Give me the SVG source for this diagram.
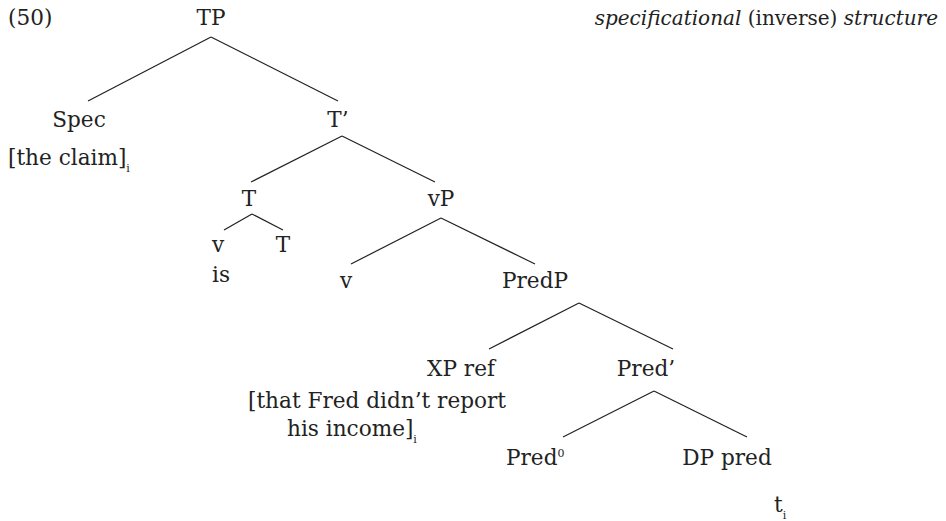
<svg xmlns="http://www.w3.org/2000/svg" width="946" height="521" viewBox="0 0 946 521">
<style>
text{font-family:"DejaVu Serif","Liberation Serif",serif;font-size:21.6px;fill:#222}
.m{text-anchor:middle}
.s{font-size:11px}
.it{font-style:italic}
.h{font-size:20px}
line{stroke:#222;stroke-width:1.2}
</style>
<rect width="946" height="521" fill="#fff"/>
<text x="8" y="25">(50)</text>
<text class="h" x="938" y="25" text-anchor="end"><tspan class="it">specificational</tspan> (inverse) <tspan class="it">structure</tspan></text>
<g id="connectors">
<line x1="211" y1="37" x2="88" y2="101"/>
<line x1="211" y1="37" x2="338" y2="101"/>
<line x1="342" y1="136" x2="251" y2="182"/>
<line x1="342" y1="136" x2="435" y2="182"/>
<line x1="252" y1="214" x2="224" y2="230"/>
<line x1="252" y1="214" x2="283" y2="230"/>
<line x1="441" y1="218" x2="351" y2="264"/>
<line x1="441" y1="218" x2="535" y2="264"/>
<line x1="579" y1="303" x2="489" y2="349"/>
<line x1="579" y1="303" x2="673" y2="349"/>
<line x1="654" y1="391" x2="563" y2="437"/>
<line x1="654" y1="391" x2="747" y2="437"/>
</g>
<g id="TP"><text class="m" x="211" y="25">TP</text></g>
<g id="Spec"><text class="m" x="79" y="127">Spec</text><text x="8" y="165">[the claim]<tspan class="s" dy="7">i</tspan></text></g>
<g id="Tbar"><text class="m" x="338" y="127">T’</text></g>
<g id="T"><text class="m" x="249" y="206">T</text></g>
<g id="vP"><text class="m" x="441" y="206">vP</text></g>
<g id="v1"><text class="m" x="218" y="252">v</text><text x="212" y="282">is</text></g>
<g id="T2"><text class="m" x="283" y="252">T</text></g>
<g id="v2"><text class="m" x="346" y="288">v</text></g>
<g id="PredP"><text class="m" x="535" y="288">PredP</text></g>
<g id="XPref"><text class="m" x="461" y="376">XP ref</text><text x="248" y="408">[that Fred didn’t report</text><text x="287" y="436">his income]<tspan class="s" dy="7">i</tspan></text></g>
<g id="Predbar"><text class="m" x="646" y="376">Pred’</text></g>
<g id="Pred0"><text x="506" y="465">Pred<tspan class="s" dy="-8">0</tspan></text></g>
<g id="DPpred"><text class="m" x="727" y="465">DP pred</text><text x="774" y="512">t<tspan class="s" dy="7">i</tspan></text></g>
</svg>
